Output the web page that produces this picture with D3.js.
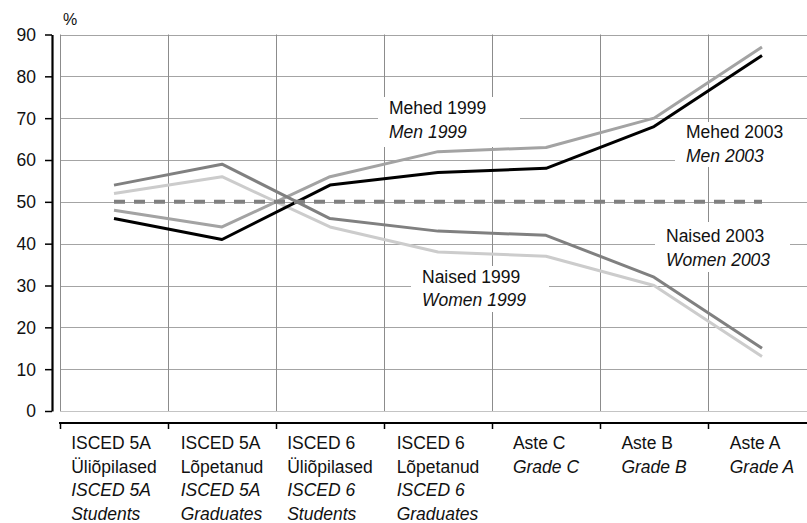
<!DOCTYPE html>
<html><head><meta charset="utf-8">
<script src="https://cdn.jsdelivr.net/npm/d3@7"></script>
<style>
html,body{margin:0;padding:0;background:#fff;}
text{font-family:"Liberation Sans",Arial,sans-serif;}
</style></head>
<body><svg id="chart" width="807" height="523"></svg>
<script>
// ---- data ----
const categories = ["c1","c2","c3","c4","c5","c6","c7"];
const labelEt1 = ["ISCED 5A","ISCED 5A","ISCED 6","ISCED 6","Aste C","Aste B","Aste A"];
const labelEt2 = ["Üliõpilased","Lõpetanud","Üliõpilased","Lõpetanud","","",""];
const labelEn1 = ["ISCED 5A","ISCED 5A","ISCED 6","ISCED 6","Grade C","Grade B","Grade A"];
const labelEn2 = ["Students","Graduates","Students","Graduates","","",""];
const men2003   = [46, 41, 54, 57, 58, 68, 85];
const men1999   = [48, 44, 56, 62, 63, 70, 87];
const women2003 = [54, 59, 46, 43, 42, 32, 15];
const women1999 = [52, 56, 44, 38, 37, 30, 13];
const parity    = [50, 50, 50, 50, 50, 50, 50];
const yTicks = [0,10,20,30,40,50,60,70,80,90];
const yUnit = "%";
const annotations = [
  {et:"Mehed 1999", en:"Men 1999"},
  {et:"Mehed 2003", en:"Men 2003"},
  {et:"Naised 2003", en:"Women 2003"},
  {et:"Naised 1999", en:"Women 1999"}
];

// ---- layout ----
const W = 807, H = 523;
const svg = d3.select("#chart");
const x = d3.scaleBand().domain(categories).range([60, 816]).padding(0);
const y = d3.scaleLinear().domain([0, 90]).range([411, 34.5]);
const cx = i => x(categories[i]) + x.bandwidth()/2;
const FS = 17.5;

// horizontal gridlines
svg.append("g").selectAll("line").data(yTicks).join("line")
  .attr("x1", 60).attr("x2", W)
  .attr("y1", d => Math.round(y(d)) + 0.5).attr("y2", d => Math.round(y(d)) + 0.5)
  .attr("stroke", d => d === 0 ? "#c4c4c4" : "#a4a4a4").attr("stroke-width", 1);
// vertical gridlines at category boundaries
svg.append("g").selectAll("line").data(categories).join("line")
  .attr("x1", d => Math.round(x(d)) + 0.5).attr("x2", d => Math.round(x(d)) + 0.5)
  .attr("y1", y(90)).attr("y2", y(0))
  .attr("stroke", "#8c8c8c").attr("stroke-width", 1);

// annotation backgrounds (white boxes breaking the grid)
const boxes = [
  {x0: 378, x1: 520, y0: 97, y1: 147},
  {x0: 675, x1: 810, y0: 122, y1: 167},
  {x0: 655, x1: 790, y0: 222, y1: 272},
  {x0: 411, x1: 549, y0: 266, y1: 312}
];
svg.append("g").selectAll("rect").data(boxes).join("rect")
  .attr("x", d => d.x0).attr("y", d => d.y0)
  .attr("width", d => d.x1 - d.x0).attr("height", d => d.y1 - d.y0)
  .attr("fill", "#fff");

// y axis
const yAxis = d3.axisLeft(y).tickValues(yTicks).tickSize(7).tickSizeOuter(0).tickPadding(9);
const gy = svg.append("g").attr("transform", "translate(52,0)").call(yAxis);
gy.select(".domain").attr("stroke", "#000").attr("stroke-width", 2.2);
gy.selectAll(".tick line").attr("stroke", "#000").attr("stroke-width", 1.5);
gy.selectAll(".tick text").attr("font-size", FS).attr("fill", "#111")
  .attr("font-family", "Liberation Sans, Arial, sans-serif").attr("dy", "0.34em");
svg.append("text").attr("x", 63).attr("y", 25).attr("font-size", 16).attr("fill", "#111").text(yUnit);

// x axis line & ticks at boundaries
const xAxisY = 423;
svg.append("line").attr("x1", 59).attr("x2", W).attr("y1", xAxisY).attr("y2", xAxisY)
  .attr("stroke", "#000").attr("stroke-width", 2.2);
svg.append("g").selectAll("line").data(categories).join("line")
  .attr("x1", d => Math.round(x(d)) + 0.5).attr("x2", d => Math.round(x(d)) + 0.5)
  .attr("y1", xAxisY).attr("y2", xAxisY + 6)
  .attr("stroke", "#000").attr("stroke-width", 1.5);

// x labels
const lab = svg.append("g");
categories.forEach((c, i) => {
  const lines = [
    {t: labelEt1[i], it: false},
    {t: labelEt2[i], it: false},
    {t: labelEn1[i], it: true},
    {t: labelEn2[i], it: true}
  ].filter(l => l.t !== "");
  const g = lab.append("g");
  const texts = lines.map((l, k) => g.append("text")
    .attr("y", 449 + k * 23.5)
    .attr("font-size", FS).attr("fill", "#111")
    .attr("font-style", l.it ? "italic" : "normal").text(l.t));
  const w = d3.max(texts.map(t => t.node().getComputedTextLength()));
  const left = cx(i) - w / 2;
  texts.forEach(t => t.attr("x", left));
});

// series lines
const line = d3.line().x((d, i) => cx(i)).y(d => y(d));
const series = [
  {v: women1999, c: "#cccccc", w: 3},
  {v: men1999,   c: "#a3a3a3", w: 3},
  {v: women2003, c: "#808080", w: 3},
  {v: men2003,   c: "#000000", w: 3}
];
svg.append("g").selectAll("path").data(series).join("path")
  .attr("d", d => line(d.v)).attr("fill", "none")
  .attr("stroke", d => d.c).attr("stroke-width", d => d.w)
  .attr("stroke-linejoin", "round");
svg.append("path").attr("d", line(parity)).attr("fill", "none")
  .attr("stroke", "#808080").attr("stroke-width", 4).attr("stroke-dasharray", "11,9");

// annotation texts
const annPos = [
  {x: 389, y: 114},
  {x: 686, y: 138},
  {x: 666, y: 242},
  {x: 422, y: 282.5}
];
const ag = svg.append("g");
annotations.forEach((a, i) => {
  ag.append("text").attr("x", annPos[i].x).attr("y", annPos[i].y)
    .attr("font-size", FS).attr("fill", "#111").text(a.et);
  ag.append("text").attr("x", annPos[i].x).attr("y", annPos[i].y + 23.5)
    .attr("font-size", FS).attr("fill", "#111").attr("font-style", "italic").text(a.en);
});
</script></body></html>
